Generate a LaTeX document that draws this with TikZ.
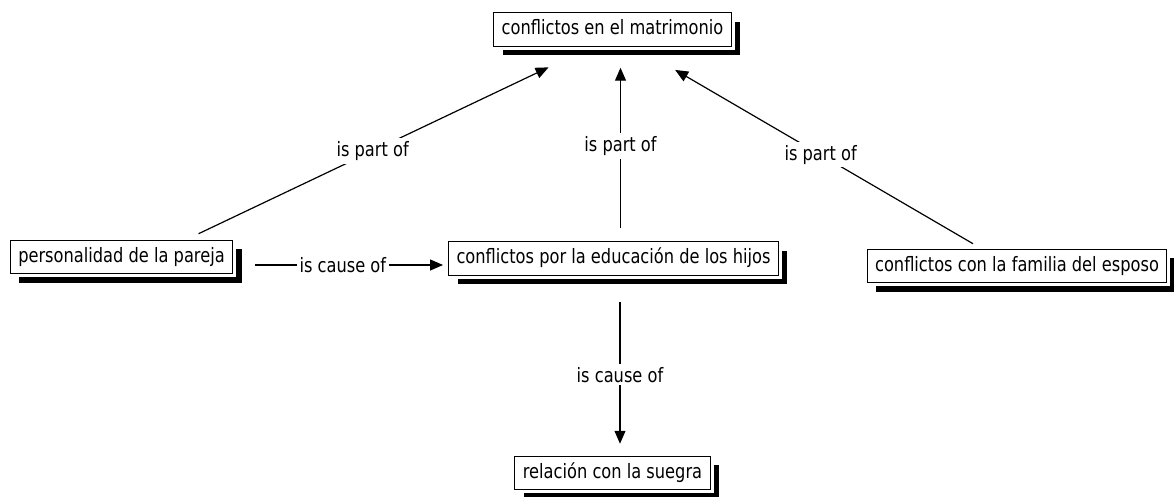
\documentclass[tikz,border=0pt]{standalone}
\usepackage{fontspec}
\usepackage{tikz}
\usetikzlibrary{arrows.meta,calc}
\newfontfamily\cmapfont[FakeStretch=0.82]{DejaVu Sans}

\tikzset{
  concept/.style={draw, fill=white, line width=1pt,
    inner xsep=8pt, inner ysep=7pt, text height=15pt, text depth=4.5pt,
    font=\cmapfont\fontsize{19.8}{23}\selectfont,
    preaction={fill=black, transform canvas={shift={(9pt,-9pt)}}},
    preaction={draw=white, line width=7pt}},
  link/.style={line width=1.2pt, -{Triangle[length=13pt,width=11pt]}},
  linklabel/.style={fill=white, inner sep=3pt, font=\cmapfont\fontsize{19.8}{23}\selectfont}
}

\begin{document}
\begin{tikzpicture}[x=1pt,y=1pt]
\useasboundingbox (0,0) rectangle (1174,-497);

\node[concept] (matrimonio) at (612.5,-29.5) {conflictos en el matrimonio};
\node[concept] (pareja) at (121.5,-257) {personalidad de la pareja};
\node[concept] (educacion) at (613.5,-258.5) {conflictos por la educación de los hijos};
\node[concept] (esposo) at (1017,-266) {conflictos con la familia del esposo};
\node[concept] (suegra) at (612.5,-473) {relación con la suegra};

\draw[link, shorten <=14pt, shorten >=48pt] (pareja.15) -- node[linklabel, pos=0.46] {is part of} (matrimonio.220);
\draw[link, shorten <=10pt, shorten >=46pt] (esposo.154) -- node[linklabel, pos=0.465] {is part of} (matrimonio.323);
\draw[link, shorten <=13pt, shorten >=21pt] ([xshift=7pt]educacion.north) -- node[linklabel, pos=0.49] {is part of} ([xshift=7pt]educacion.north |- matrimonio.south);
\draw[link, shorten <=22pt, shorten >=5pt] ([yshift=-8pt]pareja.east) -- node[linklabel, pos=0.51] {is cause of} ([yshift=-8pt]pareja.east -| educacion.west);
\draw[link, shorten <=26pt, shorten >=12pt] ([xshift=6.5pt]educacion.south) -- node[linklabel, pos=0.55] {is cause of} ([xshift=6.5pt]educacion.south |- suegra.north);
\end{tikzpicture}
\end{document}
